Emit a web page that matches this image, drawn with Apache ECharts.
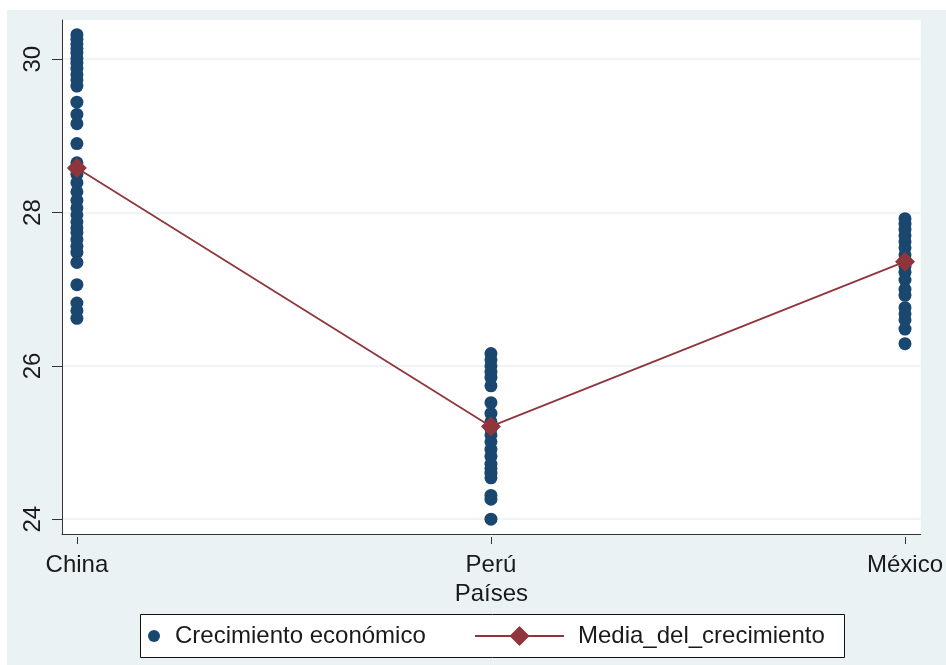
<!DOCTYPE html>
<html>
<head>
<meta charset="utf-8">
<script src="https://cdn.jsdelivr.net/npm/echarts@6/dist/echarts.min.js"></script>
<style>
  html, body { margin: 0; padding: 0; background: #ffffff; }
  #chart { width: 946px; height: 665px; }
</style>
</head>
<body>
<div id="chart"></div>
<script>
// Countries on the horizontal axis
const categories = ['China', 'Perú', 'México'];

// Yearly growth observations per country
const chinaValues = [30.32, 30.26, 30.2, 30.14, 30.08, 30.01, 29.95, 29.88, 29.8, 29.73, 29.65,
  29.44, 29.28, 29.16, 28.9, 28.65, 28.5, 28.39, 28.27, 28.16, 28.06, 27.97, 27.88, 27.8,
  27.74, 27.65, 27.56, 27.48, 27.35, 27.06, 26.82, 26.72, 26.62];
const peruValues = [26.16, 26.08, 26.0, 25.92, 25.85, 25.74, 25.52, 25.38, 25.27, 25.18, 25.1,
  25.01, 24.91, 24.82, 24.72, 24.66, 24.6, 24.54, 24.31, 24.26, 24.0];
const mexicoValues = [27.92, 27.85, 27.78, 27.7, 27.62, 27.54, 27.45, 27.38, 27.3, 27.22, 27.12,
  27.0, 26.92, 26.76, 26.68, 26.6, 26.48, 26.29];

// Mean growth per country
const meanValues = [28.58, 25.21, 27.36];

// Vertical axis ticks
const yTicks = [24, 26, 28, 30];

const FONT = "'Liberation Sans', Arial, sans-serif";
const TEXT = '#1a1a1a';
const AXIS = '#333333';
const BG = '#eaf2f3';

const scatterData = [];
[chinaValues, peruValues, mexicoValues].forEach(function (vals, i) {
  vals.forEach(function (v) { scatterData.push([i, v]); });
});
const meanData = meanValues.map(function (v, i) { return [i, v]; });

const chart = echarts.init(document.getElementById('chart'), null, { renderer: 'canvas' });

const xRange = { min: -0.036, max: 2.038 };

chart.setOption({
  animation: false,
  backgroundColor: '#ffffff',
  textStyle: { fontFamily: FONT },
  graphic: [
    { type: 'rect', z: -10, silent: true, shape: { x: 7, y: 10, width: 946, height: 665 }, style: { fill: BG } },
    { type: 'rect', z: 1, silent: true, shape: { x: 140.5, y: 614.5, width: 704, height: 43 },
      style: { fill: '#ffffff', stroke: '#111111', lineWidth: 1 } }
  ],
  grid: {
    left: 62, right: 21, top: 20, bottom: 131,
    show: true, backgroundColor: '#ffffff', borderWidth: 0,
    containLabel: false
  },
  xAxis: [
    {
      type: 'value', min: xRange.min, max: xRange.max, position: 'bottom',
      axisLine: { show: true, onZero: false, lineStyle: { color: AXIS, width: 1 } },
      axisTick: { show: false }, axisLabel: { show: false }, splitLine: { show: false }
    },
    {
      type: 'value', min: xRange.min, max: xRange.max, position: 'bottom', offset: 3,
      axisLine: { show: false, onZero: false },
      axisTick: { show: true, length: 7, customValues: [0, 1, 2], lineStyle: { color: AXIS, width: 1 } },
      axisLabel: {
        show: true, customValues: [0, 1, 2], margin: 16,
        fontSize: 24, color: TEXT, fontFamily: FONT,
        formatter: function (v) { return categories[Math.round(v)]; }
      },
      splitLine: { show: false },
      name: 'Países', nameLocation: 'middle', nameGap: 37,
      nameTextStyle: { fontSize: 24, color: TEXT, fontFamily: FONT }
    }
  ],
  yAxis: {
    type: 'value', min: 23.807, max: 30.512,
    axisLine: { show: true, onZero: false, lineStyle: { color: AXIS, width: 1 } },
    axisTick: { show: true, length: 10, customValues: yTicks, lineStyle: { color: AXIS, width: 1 } },
    axisLabel: {
      show: true, customValues: yTicks, rotate: 90, margin: 17,
      fontSize: 24, color: TEXT, fontFamily: FONT
    },
    splitLine: { show: true, lineStyle: { color: BG, width: 1.5 } }
  },
  legend: [
    {
      data: ['Crecimiento económico'],
      left: 148, top: 624, orient: 'horizontal', padding: 0,
      itemWidth: 32, itemHeight: 12, symbolKeepAspect: true,
      textStyle: { fontSize: 24, color: TEXT, fontFamily: FONT }
    },
    {
      data: ['Media_del_crecimiento'],
      left: 474, top: 624, orient: 'horizontal', padding: 0,
      itemWidth: 89, itemHeight: 25,
      textStyle: { fontSize: 24, color: TEXT, fontFamily: FONT, padding: [0, 0, 0, 9] }
    }
  ],
  series: [
    {
      name: 'Crecimiento económico', type: 'scatter', xAxisIndex: 0,
      symbol: 'circle', symbolSize: 13,
      itemStyle: { color: '#1a476f', opacity: 1 },
      data: scatterData, z: 2
    },
    {
      name: 'Media_del_crecimiento', type: 'line', xAxisIndex: 0,
      symbol: 'diamond', symbolSize: 20,
      lineStyle: { color: '#90353b', width: 1.8 },
      itemStyle: { color: '#90353b' },
      data: meanData, z: 3
    }
  ]
});
</script>
</body>
</html>
